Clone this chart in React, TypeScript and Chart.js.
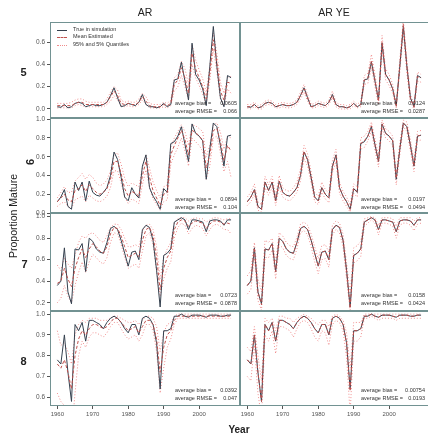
import React, { useEffect, useRef } from 'react';
import { Chart, registerables } from 'chart.js';
Chart.register(...registerables);

const FONT = '"Liberation Sans", Arial, sans-serif';

const YEARS = [
  1960, 1961, 1962, 1963, 1964, 1965, 1966, 1967, 1968, 1969,
  1970, 1971, 1972, 1973, 1974, 1975, 1976, 1977, 1978, 1979,
  1980, 1981, 1982, 1983, 1984, 1985, 1986, 1987, 1988, 1989,
  1990, 1991, 1992, 1993, 1994, 1995, 1996, 1997, 1998, 1999,
  2000, 2001, 2002, 2003, 2004, 2005, 2006, 2007, 2008, 2009,
];
const X_TICKS = [1960, 1970, 1980, 1990, 2000];

const COLUMN_TITLES = ['AR', 'AR YE'];
const AGES = ['5', '6', '7', '8'];

const Y_TICKS_5 = [0, 0.2, 0.4, 0.6];
const Y_TICKS_6 = [0, 0.2, 0.4, 0.6, 0.8, 1.0];
const Y_TICKS_7 = [0.2, 0.4, 0.6, 0.8, 1.0];
const Y_TICKS_8 = [0.6, 0.7, 0.8, 0.9, 1.0];

const BIAS_AR = ['0.0605', '0.0894', '0.0723', '0.0392'];
const RMSE_AR = ['0.066', '0.104', '0.0878', '0.047'];
const BIAS_YE = ['0.0124', '0.0197', '0.0158', '0.00754'];
const RMSE_YE = ['0.0287', '0.0494', '0.0424', '0.0193'];

// ---------- age 5 ----------
const TRUE_5 = [
  0.02, 0.015, 0.04, 0.01, 0.02, 0.05, 0.06, 0.05, 0.02, 0.03,
  0.04, 0.03, 0.03, 0.04, 0.06, 0.12, 0.19, 0.10, 0.02, 0.03,
  0.05, 0.04, 0.03, 0.06, 0.13, 0.04, 0.02, 0.02, 0.01, 0.02,
  0.05, 0.02, 0.04, 0.26, 0.27, 0.42, 0.25, 0.08, 0.59, 0.31,
  0.26, 0.18, 0.03, 0.38, 0.74, 0.38, 0.10, 0.02, 0.30, 0.28,
];
const MEAN_AR_5 = [
  0.03, 0.03, 0.03, 0.03, 0.03, 0.05, 0.06, 0.06, 0.04, 0.04,
  0.04, 0.04, 0.04, 0.04, 0.06, 0.11, 0.16, 0.12, 0.05, 0.04,
  0.05, 0.04, 0.04, 0.06, 0.11, 0.07, 0.03, 0.02, 0.02, 0.02,
  0.04, 0.03, 0.05, 0.22, 0.26, 0.37, 0.28, 0.14, 0.50, 0.36,
  0.28, 0.20, 0.09, 0.32, 0.62, 0.42, 0.16, 0.08, 0.24, 0.23,
];
const UP_AR_5 = [
  0.05, 0.05, 0.05, 0.05, 0.06, 0.08, 0.09, 0.09, 0.07, 0.06,
  0.06, 0.06, 0.06, 0.06, 0.09, 0.15, 0.20, 0.17, 0.08, 0.06,
  0.07, 0.06, 0.06, 0.09, 0.14, 0.11, 0.05, 0.04, 0.04, 0.04,
  0.06, 0.05, 0.08, 0.28, 0.31, 0.43, 0.36, 0.22, 0.58, 0.44,
  0.35, 0.27, 0.15, 0.38, 0.68, 0.50, 0.24, 0.14, 0.28, 0.29,
];
const LO_AR_5 = [
  0.01, 0.01, 0.01, 0.01, 0.01, 0.03, 0.04, 0.03, 0.02, 0.02,
  0.02, 0.02, 0.02, 0.02, 0.04, 0.07, 0.12, 0.08, 0.03, 0.02,
  0.03, 0.02, 0.02, 0.04, 0.08, 0.04, 0.01, 0.01, 0.01, 0.01,
  0.02, 0.01, 0.03, 0.16, 0.20, 0.30, 0.20, 0.08, 0.40, 0.28,
  0.21, 0.13, 0.04, 0.25, 0.54, 0.33, 0.09, 0.03, 0.18, 0.14,
];
const MEAN_YE_5 = [
  0.02, 0.02, 0.04, 0.01, 0.02, 0.05, 0.06, 0.05, 0.02, 0.03,
  0.04, 0.03, 0.03, 0.04, 0.06, 0.12, 0.18, 0.10, 0.02, 0.03,
  0.05, 0.04, 0.03, 0.06, 0.12, 0.04, 0.02, 0.02, 0.01, 0.02,
  0.05, 0.02, 0.04, 0.26, 0.28, 0.43, 0.26, 0.07, 0.60, 0.31,
  0.26, 0.18, 0.02, 0.39, 0.76, 0.38, 0.09, 0.02, 0.29, 0.28,
];
const UP_YE_5 = [
  0.04, 0.04, 0.06, 0.03, 0.04, 0.07, 0.08, 0.07, 0.04, 0.05,
  0.06, 0.05, 0.05, 0.06, 0.08, 0.15, 0.22, 0.13, 0.04, 0.05,
  0.07, 0.06, 0.05, 0.08, 0.16, 0.06, 0.04, 0.04, 0.03, 0.04,
  0.07, 0.04, 0.07, 0.30, 0.32, 0.49, 0.31, 0.10, 0.66, 0.36,
  0.31, 0.22, 0.04, 0.44, 0.80, 0.44, 0.13, 0.04, 0.33, 0.31,
];
const LO_YE_5 = [
  0.01, 0.00, 0.02, 0.00, 0.00, 0.03, 0.04, 0.03, 0.01, 0.01,
  0.02, 0.01, 0.01, 0.02, 0.04, 0.09, 0.15, 0.07, 0.01, 0.01,
  0.03, 0.02, 0.01, 0.04, 0.10, 0.02, 0.00, 0.00, 0.00, 0.00,
  0.03, 0.01, 0.02, 0.22, 0.23, 0.37, 0.20, 0.04, 0.53, 0.26,
  0.21, 0.14, 0.01, 0.33, 0.69, 0.32, 0.06, 0.00, 0.25, 0.24,
];

// ---------- age 6 ----------
const TRUE_6 = [
  0.12, 0.17, 0.25, 0.07, 0.04, 0.33, 0.24, 0.33, 0.13, 0.34,
  0.22, 0.19, 0.18, 0.22, 0.27, 0.40, 0.65, 0.57, 0.38, 0.17,
  0.13, 0.27, 0.20, 0.16, 0.50, 0.62, 0.27, 0.18, 0.12, 0.04,
  0.26, 0.22, 0.74, 0.76, 0.82, 0.92, 0.73, 0.55, 0.95, 0.85,
  0.82, 0.77, 0.36, 0.68, 0.96, 0.92, 0.72, 0.50, 0.82, 0.83,
];
const MEAN_AR_6 = [
  0.12, 0.16, 0.20, 0.14, 0.12, 0.24, 0.26, 0.30, 0.23, 0.30,
  0.26, 0.22, 0.20, 0.22, 0.26, 0.36, 0.55, 0.55, 0.42, 0.26,
  0.18, 0.23, 0.21, 0.18, 0.40, 0.55, 0.38, 0.24, 0.16, 0.08,
  0.20, 0.22, 0.62, 0.72, 0.80, 0.88, 0.78, 0.62, 0.88, 0.86,
  0.82, 0.78, 0.48, 0.62, 0.88, 0.90, 0.76, 0.56, 0.72, 0.66,
];
const UP_AR_6 = [
  0.16, 0.22, 0.28, 0.22, 0.22, 0.34, 0.38, 0.42, 0.36, 0.41,
  0.38, 0.32, 0.29, 0.31, 0.35, 0.45, 0.62, 0.64, 0.52, 0.37,
  0.28, 0.32, 0.30, 0.28, 0.48, 0.62, 0.48, 0.33, 0.24, 0.16,
  0.28, 0.30, 0.70, 0.80, 0.87, 0.94, 0.87, 0.72, 0.94, 0.93,
  0.90, 0.87, 0.60, 0.72, 0.94, 0.96, 0.86, 0.68, 0.82, 0.80,
];
const LO_AR_6 = [
  0.07, 0.10, 0.12, 0.07, 0.05, 0.14, 0.16, 0.18, 0.12, 0.19,
  0.16, 0.13, 0.12, 0.14, 0.18, 0.27, 0.45, 0.45, 0.32, 0.17,
  0.10, 0.15, 0.13, 0.10, 0.30, 0.46, 0.28, 0.15, 0.09, 0.03,
  0.12, 0.14, 0.52, 0.62, 0.70, 0.80, 0.66, 0.50, 0.80, 0.76,
  0.72, 0.66, 0.36, 0.50, 0.80, 0.82, 0.64, 0.44, 0.55, 0.38,
];
const MEAN_YE_6 = [
  0.12, 0.17, 0.25, 0.07, 0.04, 0.33, 0.24, 0.33, 0.13, 0.34,
  0.22, 0.19, 0.18, 0.22, 0.27, 0.41, 0.66, 0.56, 0.38, 0.17,
  0.13, 0.27, 0.20, 0.16, 0.49, 0.61, 0.27, 0.18, 0.12, 0.04,
  0.26, 0.23, 0.74, 0.77, 0.82, 0.93, 0.73, 0.55, 0.95, 0.85,
  0.82, 0.77, 0.37, 0.68, 0.96, 0.92, 0.72, 0.50, 0.82, 0.83,
];
const UP_YE_6 = [
  0.17, 0.22, 0.31, 0.12, 0.09, 0.39, 0.30, 0.39, 0.18, 0.40,
  0.27, 0.24, 0.23, 0.27, 0.33, 0.47, 0.72, 0.63, 0.44, 0.22,
  0.18, 0.33, 0.25, 0.21, 0.56, 0.68, 0.33, 0.23, 0.17, 0.08,
  0.31, 0.28, 0.80, 0.82, 0.87, 0.97, 0.79, 0.61, 0.99, 0.90,
  0.87, 0.82, 0.42, 0.74, 0.99, 0.97, 0.78, 0.56, 0.87, 0.88,
];
const LO_YE_6 = [
  0.08, 0.12, 0.20, 0.03, 0.01, 0.27, 0.19, 0.27, 0.08, 0.28,
  0.17, 0.14, 0.13, 0.17, 0.22, 0.34, 0.58, 0.50, 0.32, 0.12,
  0.09, 0.22, 0.15, 0.11, 0.43, 0.55, 0.21, 0.13, 0.07, 0.01,
  0.21, 0.17, 0.68, 0.70, 0.77, 0.87, 0.67, 0.49, 0.90, 0.80,
  0.77, 0.72, 0.30, 0.62, 0.92, 0.87, 0.66, 0.44, 0.76, 0.78,
];

// ---------- age 7 ----------
const TRUE_7 = [
  0.36, 0.40, 0.71, 0.30, 0.19, 0.70, 0.69, 0.75, 0.49, 0.80,
  0.77, 0.70, 0.67, 0.66, 0.76, 0.89, 0.91, 0.88, 0.78, 0.66,
  0.54, 0.67, 0.68, 0.60, 0.88, 0.92, 0.90, 0.78, 0.50, 0.16,
  0.64, 0.66, 0.70, 0.95, 0.97, 0.99, 0.97, 0.88, 0.97, 0.97,
  0.96, 0.95, 0.86, 0.96, 0.97, 0.97, 0.96, 0.92, 0.97, 0.97,
];
const MEAN_AR_7 = [
  0.38, 0.40, 0.52, 0.42, 0.35, 0.52, 0.62, 0.70, 0.62, 0.70,
  0.75, 0.72, 0.68, 0.66, 0.72, 0.84, 0.90, 0.89, 0.82, 0.72,
  0.62, 0.64, 0.66, 0.63, 0.78, 0.88, 0.90, 0.82, 0.62, 0.32,
  0.52, 0.62, 0.68, 0.88, 0.95, 0.97, 0.96, 0.91, 0.94, 0.96,
  0.95, 0.94, 0.89, 0.93, 0.96, 0.96, 0.95, 0.93, 0.94, 0.93,
];
const UP_AR_7 = [
  0.55, 0.50, 0.62, 0.56, 0.52, 0.64, 0.76, 0.82, 0.80, 0.84,
  0.85, 0.82, 0.78, 0.76, 0.82, 0.90, 0.93, 0.93, 0.88, 0.80,
  0.72, 0.72, 0.74, 0.72, 0.86, 0.92, 0.93, 0.88, 0.72, 0.42,
  0.62, 0.70, 0.76, 0.94, 0.98, 0.99, 0.99, 0.96, 0.98, 0.99,
  0.98, 0.98, 0.95, 0.97, 0.99, 0.99, 0.98, 0.97, 0.98, 0.98,
];
const LO_AR_7 = [
  0.20, 0.24, 0.36, 0.26, 0.20, 0.36, 0.48, 0.58, 0.48, 0.58,
  0.65, 0.62, 0.58, 0.56, 0.62, 0.76, 0.85, 0.84, 0.74, 0.62,
  0.52, 0.54, 0.56, 0.52, 0.68, 0.82, 0.85, 0.74, 0.50, 0.26,
  0.42, 0.52, 0.58, 0.80, 0.90, 0.94, 0.92, 0.84, 0.89, 0.92,
  0.91, 0.89, 0.82, 0.88, 0.92, 0.93, 0.91, 0.88, 0.88, 0.84,
];
const MEAN_YE_7 = [
  0.36, 0.41, 0.71, 0.30, 0.18, 0.70, 0.69, 0.75, 0.49, 0.80,
  0.77, 0.70, 0.67, 0.66, 0.76, 0.89, 0.91, 0.88, 0.78, 0.66,
  0.54, 0.67, 0.68, 0.60, 0.88, 0.92, 0.90, 0.78, 0.49, 0.15,
  0.64, 0.66, 0.70, 0.95, 0.97, 0.99, 0.97, 0.88, 0.97, 0.97,
  0.96, 0.95, 0.86, 0.96, 0.97, 0.97, 0.96, 0.92, 0.97, 0.97,
];
const UP_YE_7 = [
  0.45, 0.50, 0.76, 0.42, 0.30, 0.78, 0.76, 0.80, 0.58, 0.85,
  0.82, 0.76, 0.73, 0.72, 0.81, 0.93, 0.95, 0.92, 0.84, 0.72,
  0.61, 0.73, 0.74, 0.67, 0.92, 0.96, 0.94, 0.84, 0.57, 0.28,
  0.71, 0.73, 0.77, 0.98, 0.99, 1.00, 0.99, 0.92, 0.99, 0.99,
  0.99, 0.98, 0.91, 0.99, 0.99, 0.99, 0.99, 0.96, 0.99, 0.99,
];
const LO_YE_7 = [
  0.28, 0.32, 0.63, 0.22, 0.13, 0.62, 0.62, 0.69, 0.42, 0.74,
  0.71, 0.64, 0.61, 0.60, 0.70, 0.85, 0.87, 0.83, 0.72, 0.58,
  0.47, 0.60, 0.61, 0.53, 0.83, 0.88, 0.85, 0.72, 0.42, 0.13,
  0.57, 0.59, 0.63, 0.91, 0.94, 0.97, 0.94, 0.83, 0.94, 0.94,
  0.93, 0.91, 0.80, 0.92, 0.94, 0.94, 0.92, 0.87, 0.93, 0.94,
];

// ---------- age 8 ----------
const TRUE_8 = [
  0.78, 0.76, 0.90, 0.72, 0.58, 0.95, 0.92, 0.96, 0.87, 0.97,
  0.97, 0.96, 0.95, 0.93, 0.96, 0.98, 0.99, 0.98, 0.96, 0.93,
  0.91, 0.95, 0.95, 0.90, 0.98, 0.99, 0.98, 0.95, 0.86, 0.64,
  0.92, 0.92, 0.93, 0.99, 0.99, 1.00, 0.99, 0.985, 0.995, 0.995,
  0.995, 0.99, 0.985, 0.995, 0.995, 0.995, 0.99, 0.99, 0.995, 0.995,
];
const MEAN_AR_8 = [
  0.76, 0.74, 0.78, 0.72, 0.64, 0.80, 0.88, 0.92, 0.90, 0.93,
  0.95, 0.95, 0.94, 0.93, 0.94, 0.96, 0.98, 0.98, 0.96, 0.94,
  0.92, 0.93, 0.94, 0.91, 0.94, 0.97, 0.97, 0.95, 0.88, 0.72,
  0.84, 0.90, 0.92, 0.97, 0.99, 0.99, 0.99, 0.99, 0.99, 0.99,
  0.99, 0.99, 0.99, 0.99, 0.99, 0.99, 0.99, 0.99, 0.99, 0.99,
];
const UP_AR_8 = [
  0.92, 0.85, 0.86, 0.82, 0.76, 0.90, 0.95, 0.97, 0.96, 0.98,
  0.98, 0.98, 0.97, 0.97, 0.97, 0.98, 0.99, 0.99, 0.98, 0.97,
  0.96, 0.96, 0.97, 0.95, 0.97, 0.99, 0.99, 0.98, 0.94, 0.82,
  0.91, 0.95, 0.96, 0.99, 1.00, 1.00, 1.00, 1.00, 1.00, 1.00,
  1.00, 1.00, 1.00, 1.00, 1.00, 1.00, 1.00, 1.00, 1.00, 1.00,
];
const LO_AR_8 = [
  0.62, 0.58, 0.56, 0.50, 0.42, 0.62, 0.80, 0.87, 0.84, 0.89,
  0.91, 0.91, 0.90, 0.89, 0.91, 0.94, 0.96, 0.96, 0.93, 0.90,
  0.88, 0.89, 0.90, 0.87, 0.90, 0.95, 0.95, 0.92, 0.82, 0.62,
  0.74, 0.84, 0.88, 0.95, 0.98, 0.98, 0.98, 0.98, 0.98, 0.98,
  0.98, 0.98, 0.98, 0.98, 0.98, 0.98, 0.98, 0.98, 0.98, 0.98,
];
const MEAN_YE_8 = [
  0.78, 0.76, 0.90, 0.72, 0.58, 0.95, 0.92, 0.96, 0.87, 0.97,
  0.97, 0.96, 0.95, 0.93, 0.96, 0.98, 0.99, 0.98, 0.96, 0.93,
  0.91, 0.95, 0.95, 0.90, 0.98, 0.99, 0.98, 0.95, 0.86, 0.63,
  0.92, 0.92, 0.93, 0.99, 0.99, 1.00, 0.99, 0.985, 0.995, 0.995,
  0.995, 0.99, 0.985, 0.995, 0.995, 0.995, 0.99, 0.99, 0.995, 0.995,
];
const UP_YE_8 = [
  0.84, 0.82, 0.94, 0.80, 0.68, 0.98, 0.96, 0.98, 0.92, 0.99,
  0.99, 0.98, 0.98, 0.96, 0.98, 0.99, 1.00, 0.99, 0.98, 0.96,
  0.95, 0.97, 0.97, 0.94, 0.99, 1.00, 0.99, 0.97, 0.91, 0.74,
  0.96, 0.96, 0.96, 1.00, 1.00, 1.00, 1.00, 1.00, 1.00, 1.00,
  1.00, 1.00, 1.00, 1.00, 1.00, 1.00, 1.00, 1.00, 1.00, 1.00,
];
const LO_YE_8 = [
  0.70, 0.68, 0.85, 0.62, 0.50, 0.90, 0.87, 0.92, 0.81, 0.94,
  0.94, 0.93, 0.92, 0.89, 0.93, 0.96, 0.97, 0.96, 0.93, 0.89,
  0.87, 0.92, 0.91, 0.85, 0.95, 0.97, 0.96, 0.92, 0.79, 0.52,
  0.87, 0.87, 0.89, 0.98, 0.98, 0.99, 0.98, 0.97, 0.98, 0.98,
  0.98, 0.98, 0.97, 0.98, 0.98, 0.98, 0.98, 0.98, 0.98, 0.98,
];

// ---------- layout / style ----------
const TRUE_COLOR = '#34404e';
const MEAN_COLOR = '#c0504d';
const QUANT_COLOR = '#f08c8c';
const BORDER_COLOR = '#729292';
const TICK_COLOR = '#555';
const TEXT_COLOR = '#222';

const X_RANGE = [1957.94, 2011.52];
const ROW_TOP = [22, 118, 213, 311];
const ROW_BOTTOM = [118, 213, 311, 406];
const Y_RANGES = [[-0.081, 0.78], [0.0, 1.013], [0.123, 1.034], [0.558, 1.015]];
const Y_TICKS = [Y_TICKS_5, Y_TICKS_6, Y_TICKS_7, Y_TICKS_8];
const ANNOT_Y = [[104, 111.7], [200, 208.3], [296, 304.3], [391, 398.7]];

const SERIES = [
  [
    { t: TRUE_5, m: MEAN_AR_5, u: UP_AR_5, l: LO_AR_5 },
    { t: TRUE_5, m: MEAN_YE_5, u: UP_YE_5, l: LO_YE_5 },
  ],
  [
    { t: TRUE_6, m: MEAN_AR_6, u: UP_AR_6, l: LO_AR_6 },
    { t: TRUE_6, m: MEAN_YE_6, u: UP_YE_6, l: LO_YE_6 },
  ],
  [
    { t: TRUE_7, m: MEAN_AR_7, u: UP_AR_7, l: LO_AR_7 },
    { t: TRUE_7, m: MEAN_YE_7, u: UP_YE_7, l: LO_YE_7 },
  ],
  [
    { t: TRUE_8, m: MEAN_AR_8, u: UP_AR_8, l: LO_AR_8 },
    { t: TRUE_8, m: MEAN_YE_8, u: UP_YE_8, l: LO_YE_8 },
  ],
];

const boxPlugin = {
  id: 'panelBox',
  afterDatasetsDraw(chart: any) {
    const { ctx, chartArea: a } = chart;
    ctx.save();
    ctx.strokeStyle = BORDER_COLOR;
    ctx.lineWidth = 1;
    ctx.strokeRect(a.left + 0.5, a.top + 0.5, a.right - a.left - 1, a.bottom - a.top - 1);
    ctx.restore();
  },
};

function lineDs(values: number[], color: string, dash: number[]) {
  return {
    data: YEARS.map((x, i) => ({ x, y: values[i] })),
    borderColor: color,
    borderDash: dash,
    borderWidth: 1,
    pointRadius: 0,
    fill: false,
    tension: 0,
  };
}

function Panel({ row, col }: { row: number; col: number }) {
  const ref = useRef<HTMLCanvasElement>(null);
  const left = col === 0 ? 10 : 240;
  const width = col === 0 ? 230 : 190;
  const top = ROW_TOP[row] - 6;
  const bottomExtra = row === 3 ? 16 : 6;
  const height = ROW_BOTTOM[row] - ROW_TOP[row] + 6 + bottomExtra;

  useEffect(() => {
    const s = SERIES[row][col];
    const showY = col === 0;
    const showX = row === 3;
    const chart = new Chart(ref.current as HTMLCanvasElement, {
      type: 'line',
      data: {
        datasets: [
          lineDs(s.m, MEAN_COLOR, [3, 2]),
          lineDs(s.t, TRUE_COLOR, []),
          lineDs(s.u, QUANT_COLOR, [1, 2]),
          lineDs(s.l, QUANT_COLOR, [1, 2]),
        ],
      },
      options: {
        animation: false,
        responsive: false,
        maintainAspectRatio: false,
        devicePixelRatio: 1,
        layout: { padding: { top: 6, bottom: row === 3 ? 0 : 6, left: 0, right: 0 } },
        plugins: { legend: { display: false }, tooltip: { enabled: false } },
        events: [],
        scales: {
          x: {
            type: 'linear',
            min: X_RANGE[0],
            max: X_RANGE[1],
            display: showX,
            afterBuildTicks: (sc: any) => {
              sc.ticks = X_TICKS.map((v) => ({ value: v }));
            },
            afterFit: (sc: any) => {
              sc.height = showX ? 16 : 0;
              sc.paddingLeft = 0;
              sc.paddingRight = 0;
            },
            grid: { display: true, drawOnChartArea: false, drawTicks: true, tickLength: 3, color: TICK_COLOR },
            border: { display: false },
            ticks: {
              autoSkip: false,
              maxRotation: 0,
              padding: 2,
              color: TICK_COLOR,
              font: { family: FONT, size: 6 },
              callback: (v: any) => String(v),
            },
          },
          y: {
            type: 'linear',
            min: Y_RANGES[row][0],
            max: Y_RANGES[row][1],
            display: showY,
            afterBuildTicks: (sc: any) => {
              sc.ticks = Y_TICKS[row].map((v) => ({ value: v }));
            },
            afterFit: (sc: any) => {
              sc.width = showY ? 40 : 0;
              sc.paddingTop = 0;
              sc.paddingBottom = 0;
            },
            grid: { display: true, drawOnChartArea: false, drawTicks: true, tickLength: 3, color: TICK_COLOR },
            border: { display: false },
            ticks: {
              autoSkip: false,
              padding: 2,
              color: TICK_COLOR,
              font: { family: FONT, size: 6.5 },
              callback: (v: any) => Number(v).toFixed(1),
            },
          },
        },
      },
      plugins: [boxPlugin],
    } as any);
    return () => chart.destroy();
  }, [row, col]);

  return (
    <canvas
      ref={ref}
      width={width}
      height={height}
      style={{ position: 'absolute', left, top, width, height }}
    />
  );
}

function T(props: {
  x: number;
  y: number;
  size: number;
  anchor?: 'start' | 'middle' | 'end';
  bold?: boolean;
  rotate?: number;
  color?: string;
  children: React.ReactNode;
}) {
  const { x, y, size, anchor = 'middle', bold, rotate, color = TEXT_COLOR, children } = props;
  const tx = anchor === 'start' ? '0' : anchor === 'end' ? '-100%' : '-50%';
  return (
    <div
      style={{
        position: 'absolute',
        left: x,
        top: y,
        transform: `translate(${tx}, -50%)${rotate ? ` rotate(${rotate}deg)` : ''}`,
        whiteSpace: 'nowrap',
        fontSize: size,
        fontFamily: FONT,
        fontWeight: bold ? 700 : 400,
        color,
        lineHeight: 1,
      }}
    >
      {children}
    </div>
  );
}

function LegendRow({ y, border, label }: { y: number; border: string; label: string }) {
  return (
    <>
      <div style={{ position: 'absolute', left: 57, top: y, width: 10, height: 0, borderTop: border }} />
      <T x={73} y={y} size={5.5} anchor="start" color="#333">{label}</T>
    </>
  );
}

export default function App() {
  const rowLabelPos = [
    [23.5, 72],
    [29.5, 161.7],
    [24.5, 264],
    [23.5, 361],
  ];
  return (
    <div
      style={{
        position: 'absolute',
        left: 0,
        top: 0,
        width: 428,
        height: 435,
        overflow: 'hidden',
        background: '#fff',
      }}
    >
      {[0, 1, 2, 3].map((r) =>
        [0, 1].map((c) => <Panel key={`${r}-${c}`} row={r} col={c} />)
      )}

      <T x={145} y={12} size={10.5}>{COLUMN_TITLES[0]}</T>
      <T x={334} y={12} size={10.5}>{COLUMN_TITLES[1]}</T>

      {AGES.map((a, i) => (
        <T key={a} x={rowLabelPos[i][0]} y={rowLabelPos[i][1]} size={11} bold rotate={i === 1 ? -90 : 0}>
          {a}
        </T>
      ))}

      <T x={12.5} y={215.5} size={10.5} rotate={-90}>Proportion Mature</T>
      <T x={239} y={430} size={10} bold>Year</T>

      <LegendRow y={29.5} border={`1px solid ${TRUE_COLOR}`} label="True in simulation" />
      <LegendRow y={37.3} border={`1px dashed ${MEAN_COLOR}`} label="Mean Estimated" />
      <LegendRow y={45} border={`1px dotted ${QUANT_COLOR}`} label="95% and 5% Quantiles" />

      {[0, 1, 2, 3].map((r) => (
        <React.Fragment key={`ann-${r}`}>
          <T x={175} y={ANNOT_Y[r][0]} size={5.5} anchor="start" color="#333">average bias =</T>
          <T x={237} y={ANNOT_Y[r][0]} size={5.5} anchor="end" color="#333">{BIAS_AR[r]}</T>
          <T x={175} y={ANNOT_Y[r][1]} size={5.5} anchor="start" color="#333">average RMSE =</T>
          <T x={237} y={ANNOT_Y[r][1]} size={5.5} anchor="end" color="#333">{RMSE_AR[r]}</T>
          <T x={361} y={ANNOT_Y[r][0]} size={5.5} anchor="start" color="#333">average bias =</T>
          <T x={425} y={ANNOT_Y[r][0]} size={5.5} anchor="end" color="#333">{BIAS_YE[r]}</T>
          <T x={361} y={ANNOT_Y[r][1]} size={5.5} anchor="start" color="#333">average RMSE =</T>
          <T x={425} y={ANNOT_Y[r][1]} size={5.5} anchor="end" color="#333">{RMSE_YE[r]}</T>
        </React.Fragment>
      ))}
    </div>
  );
}
